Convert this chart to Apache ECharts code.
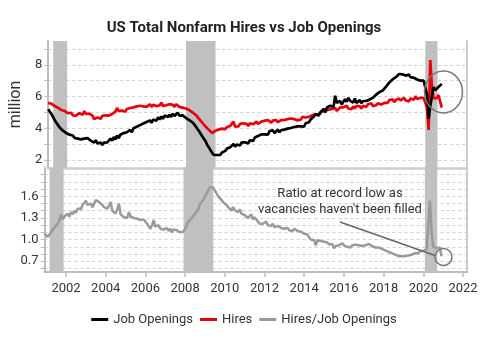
<!DOCTYPE html>
<html>
<head>
<meta charset="utf-8">
<script src="https://cdn.jsdelivr.net/npm/echarts@6/dist/echarts.min.js"></script>
<style>html,body{margin:0;padding:0;background:#fff}#c{width:488px;height:349px}</style>
</head>
<body>
<div id="c"></div>
<script>
// Monthly data, Dec 2000 .. Dec 2020 (million)
const firstYear = 2000, firstMonth = 12;
const openings = [5.2,
 5.05,4.9,4.7,4.5,4.35,4.2,4.05,3.95,3.85,3.75,3.7,3.65,
 3.6,3.5,3.55,3.4,3.5,3.35,3.45,3.3,3.42,3.35,3.28,3.38,
 3.3,3.22,3.25,3.1,3.25,3.05,3.0,3.1,2.95,3.1,3.2,3.12,
 3.2,3.35,3.22,3.45,3.3,3.55,3.38,3.6,3.48,3.7,3.58,3.75,
 3.68,3.9,3.75,4.0,3.88,4.1,3.98,4.2,4.08,4.3,4.18,4.4,
 4.28,4.5,4.35,4.55,4.62,4.48,4.7,4.55,4.75,4.6,4.8,4.68,
 4.72,4.85,4.72,4.92,4.78,4.88,4.98,4.8,4.72,4.82,4.7,4.65,
 4.62,4.52,4.55,4.38,4.32,4.12,4.02,3.82,3.72,3.48,3.38,3.18,
 2.95,2.8,2.62,2.45,2.32,2.25,2.32,2.42,2.33,2.48,2.5,2.58,
 2.72,2.6,2.8,2.92,3.02,2.85,2.98,3.08,2.92,3.12,3.0,3.12,
 3.18,3.05,3.25,3.32,3.2,3.42,3.35,3.52,3.42,3.62,3.5,3.62,
 3.72,3.6,3.82,3.72,3.88,3.7,3.82,3.92,3.75,3.88,3.8,3.92,
 3.85,3.98,3.88,4.02,3.95,4.08,3.98,4.12,4.05,4.12,4.22,4.1,
 4.32,4.2,4.38,4.55,4.62,4.75,4.88,4.9,4.8,5.02,5.1,5.22,
 5.0,5.32,5.2,5.42,5.52,5.35,6.05,5.6,5.5,5.72,5.5,5.68,
 5.82,5.68,5.92,5.75,5.82,5.62,5.88,5.6,5.72,5.78,5.58,5.72,
 5.6,5.72,5.78,5.82,5.72,5.92,6.02,6.12,6.18,6.28,6.3,6.38,
 6.42,6.62,6.7,6.88,6.95,7.08,7.1,7.22,7.3,7.42,7.52,7.4,
 7.45,7.32,7.3,7.38,7.22,7.32,7.18,7.28,7.08,7.18,7.0,6.9,
 7.0,7.0,6.1,4.6,5.4,6.0,6.6,6.4,6.5,6.6,6.5,6.8];
const hires = [5.6,
 5.7,5.55,5.5,5.4,5.35,5.3,5.2,5.15,5.05,5.1,5.0,4.95,
 4.9,4.98,4.82,4.92,4.8,4.88,4.96,4.88,4.85,5.08,4.9,4.95,
 4.92,4.85,4.8,4.58,4.55,4.68,4.72,4.6,4.78,4.68,4.82,4.75,
 4.8,4.88,4.9,5.02,5.05,5.28,5.08,5.0,5.12,5.15,5.05,5.22,
 5.15,5.28,5.18,5.32,5.25,5.38,5.28,5.42,5.3,5.38,5.48,5.35,
 5.42,5.52,5.35,5.48,5.58,5.4,5.52,5.45,5.62,5.4,5.52,5.45,
 5.35,5.52,5.4,5.48,5.35,5.52,5.4,5.35,5.45,5.3,5.38,5.25,
 5.2,5.15,5.1,5.0,4.95,4.85,4.8,4.6,4.5,4.35,4.25,4.1,
 4.0,3.9,3.8,3.7,3.65,3.85,3.78,3.92,3.85,3.98,4.02,3.95,
 4.08,3.98,4.15,4.22,4.42,4.1,4.22,4.12,4.28,4.18,4.32,4.2,
 4.28,4.15,4.32,4.38,4.25,4.32,4.42,4.28,4.38,4.42,4.3,4.48,
 4.4,4.52,4.42,4.35,4.48,4.4,4.52,4.38,4.48,4.52,4.4,4.52,
 4.45,4.58,4.5,4.62,4.5,4.58,4.68,4.5,4.62,4.55,4.72,4.6,
 4.68,4.6,4.72,4.75,4.82,4.75,4.88,4.95,4.9,5.02,5.05,5.0,
 5.12,5.05,5.18,5.1,5.22,5.15,5.28,5.1,5.22,5.32,5.2,5.32,
 5.3,5.42,5.25,5.32,5.2,5.38,5.25,5.42,5.3,5.38,5.25,5.42,
 5.4,5.35,5.52,5.45,5.58,5.4,5.52,5.45,5.58,5.62,5.5,5.58,
 5.6,5.72,5.6,5.78,5.7,5.82,5.65,5.78,5.7,5.88,5.75,5.82,
 5.92,5.75,5.82,5.7,5.88,5.92,5.8,6.02,5.85,5.8,5.92,5.85,
 5.9,6.0,5.3,3.9,8.3,6.6,5.9,6.0,5.9,6.1,6.0,5.3];
const ratio = [1.08,
 1.07,1.04,1.06,1.1,1.14,1.17,1.15,1.22,1.27,1.35,1.28,1.32,
 1.33,1.36,1.32,1.38,1.35,1.4,1.37,1.43,1.45,1.42,1.48,1.46,
 1.54,1.48,1.47,1.5,1.45,1.5,1.55,1.57,1.52,1.5,1.48,1.45,
 1.47,1.43,1.45,1.52,1.4,1.38,1.36,1.42,1.5,1.35,1.33,1.31,
 1.33,1.3,1.38,1.32,1.34,1.3,1.31,1.29,1.3,1.27,1.26,1.28,
 1.27,1.22,1.24,1.15,1.2,1.27,1.18,1.16,1.2,1.15,1.17,1.14,
 1.13,1.16,1.12,1.15,1.1,1.14,1.16,1.13,1.15,1.1,1.12,1.11,
 1.15,1.2,1.25,1.27,1.3,1.33,1.36,1.35,1.42,1.5,1.48,1.55,
 1.6,1.64,1.68,1.73,1.75,1.72,1.68,1.64,1.6,1.62,1.55,1.52,
 1.54,1.48,1.45,1.43,1.4,1.45,1.41,1.39,1.38,1.42,1.36,1.35,
 1.34,1.36,1.3,1.32,1.35,1.28,1.31,1.3,1.25,1.22,1.23,1.22,
 1.22,1.25,1.2,1.18,1.19,1.22,1.17,1.16,1.19,1.17,1.16,1.15,
 1.15,1.14,1.16,1.13,1.14,1.12,1.15,1.13,1.12,1.14,1.11,1.13,
 1.08,1.1,1.07,1.03,1.0,0.98,0.99,0.92,0.99,0.97,0.98,0.96,
 0.97,0.95,0.96,0.93,0.92,0.94,0.88,0.91,0.93,0.92,0.94,0.95,
 0.92,0.93,0.9,0.91,0.89,0.92,0.9,0.93,0.91,0.92,0.9,0.91,
 0.93,0.92,0.91,0.94,0.92,0.91,0.9,0.89,0.88,0.89,0.87,0.87,
 0.86,0.85,0.83,0.83,0.82,0.81,0.8,0.79,0.78,0.77,0.76,0.77,
 0.76,0.77,0.76,0.78,0.77,0.79,0.8,0.81,0.82,0.81,0.84,0.85,
 0.84,0.86,0.87,0.85,1.54,1.1,0.9,0.92,0.88,0.9,0.89,0.77];
const recessions = [[2001.17, 2001.88], [2007.92, 2009.42], [2020.08, 2020.7]];
const yearTicks = [2002, 2004, 2006, 2008, 2010, 2012, 2014, 2016, 2018, 2020, 2022];
const topTicks = [2, 3, 4, 5, 6, 7, 8, 9];
const topLabels = [2, 4, 6, 8];
const bottomTicks = [0.6, 0.7, 0.8, 0.9, 1.0, 1.1, 1.2, 1.3, 1.4, 1.5, 1.6, 1.7, 1.8, 1.9];
const bottomLabels = [0.7, 1.0, 1.3, 1.6];

// decimal-year x for each month
const xs = openings.map((_, i) => firstYear + (firstMonth - 1 + i) / 12);
const pair = arr => arr.map((v, i) => [xs[i], v]);

const FONT = 'Roboto, "Noto Sans", sans-serif';
const AX = '#bdbdbd';
const xMin = 2000.917, xMax = 2022.2;
const shade = {
  silent: true,
  itemStyle: { color: '#c0c0c0' },
  data: recessions.map(r => [{ xAxis: r[0] }, { xAxis: r[1] }])
};

const chart = echarts.init(document.getElementById('c'), null, { renderer: 'canvas' });
chart.setOption({
  animation: false,
  backgroundColor: '#fff',
  textStyle: { fontFamily: FONT },
  title: {
    text: 'US Total Nonfarm Hires vs Job Openings',
    left: 'center', top: 16,
    textStyle: { fontSize: 15, fontWeight: 'bold', color: '#222', fontFamily: FONT }
  },
  legend: {
    bottom: 18, left: 'center',
    icon: 'rect', itemWidth: 17, itemHeight: 3, itemGap: 7,
    textStyle: { fontSize: 13, color: '#333', fontFamily: FONT },
    data: ['Job Openings', 'Hires', 'Hires/Job Openings']
  },
  grid: [
    { left: 44.5, right: 21, top: 41, height: 127 },
    { left: 44.5, right: 21, top: 167.5, height: 104.5 }
  ],
  xAxis: [
    { type: 'value', gridIndex: 0, min: xMin, max: xMax,
      axisLine: { show: true, lineStyle: { color: '#cccccc', width: 2.5 } },
      axisTick: { show: false }, axisLabel: { show: false }, splitLine: { show: false } },
    { type: 'value', gridIndex: 1, min: xMin, max: xMax,
      axisLine: { show: true, onZero: false, lineStyle: { color: AX, width: 2 } },
      axisTick: { show: true, length: 5, customValues: yearTicks, lineStyle: { color: AX, width: 1.5 } },
      axisLabel: { show: true, customValues: yearTicks, margin: 10, fontSize: 13, color: '#333', fontFamily: FONT,
        formatter: v => String(Math.round(v)) },
      splitLine: { show: false } }
  ],
  yAxis: [
    { type: 'value', gridIndex: 0, min: 1.5, max: 9.5,
      name: 'million', nameLocation: 'middle', nameGap: 22,
      nameTextStyle: { fontSize: 16, color: '#333', fontFamily: FONT },
      axisLine: { show: true, lineStyle: { color: AX, width: 2 } },
      axisTick: { show: true, length: 4, customValues: topTicks, lineStyle: { color: AX } },
      axisLabel: { customValues: topLabels, margin: 6, fontSize: 13, color: '#333', fontFamily: FONT },
      splitLine: { show: true, lineStyle: { color: '#d0d0d0', type: [3, 3], width: 1 } } },
    { type: 'value', gridIndex: 0, position: 'right', min: 1.5, max: 9.5,
      axisLine: { show: true, lineStyle: { color: AX, width: 1.5 } },
      axisTick: { show: false }, axisLabel: { show: false }, splitLine: { show: false } },
    { type: 'value', gridIndex: 1, min: 0.55, max: 2.0,
      axisLine: { show: true, lineStyle: { color: AX, width: 2 } },
      axisTick: { show: true, length: 4, customValues: bottomTicks, lineStyle: { color: AX } },
      axisLabel: { customValues: bottomLabels, margin: 6, fontSize: 13, color: '#333', fontFamily: FONT,
        formatter: v => v.toFixed(1) },
      splitLine: { show: true, lineStyle: { color: '#d0d0d0', type: [3, 3], width: 1 } } },
    { type: 'value', gridIndex: 1, position: 'right', min: 0.55, max: 2.0,
      axisLine: { show: true, lineStyle: { color: AX, width: 1.5 } },
      axisTick: { show: false }, axisLabel: { show: false }, splitLine: { show: false } }
  ],
  series: [
    { name: 'Job Openings', type: 'line', xAxisIndex: 0, yAxisIndex: 0, data: pair(openings),
      showSymbol: false, color: '#000', lineStyle: { color: '#000', width: 2.7 }, z: 4,
      markArea: shade },
    { name: 'Hires', type: 'line', xAxisIndex: 0, yAxisIndex: 0, data: pair(hires),
      showSymbol: false, color: '#e8000b', lineStyle: { color: '#e8000b', width: 2.7 }, z: 3 },
    { name: 'Hires/Job Openings', type: 'line', xAxisIndex: 1, yAxisIndex: 2, data: pair(ratio),
      showSymbol: false, color: '#9a9a9a', lineStyle: { color: '#9a9a9a', width: 2.5 }, z: 3,
      markArea: shade }
  ],
  graphic: [
    { type: 'ellipse', shape: { cx: 443.5, cy: 92, rx: 19, ry: 21 },
      style: { fill: 'none', stroke: '#777', lineWidth: 1.5 }, z: 100 },
    { type: 'text', x: 340, y: 186, z: 100,
      style: { text: 'Ratio at record low as\nvacancies haven\'t been filled', fill: '#333',
        font: '13px ' + FONT, align: 'center', lineHeight: 15.5 } },
    { type: 'line', shape: { x1: 340, y1: 222, x2: 435, y2: 255.5 },
      style: { stroke: '#666', lineWidth: 1.5 }, z: 100 },
    { type: 'circle', shape: { cx: 443.5, cy: 257, r: 8.5 },
      style: { fill: 'none', stroke: '#777', lineWidth: 1.5 }, z: 100 }
  ]
});
</script>
</body>
</html>
